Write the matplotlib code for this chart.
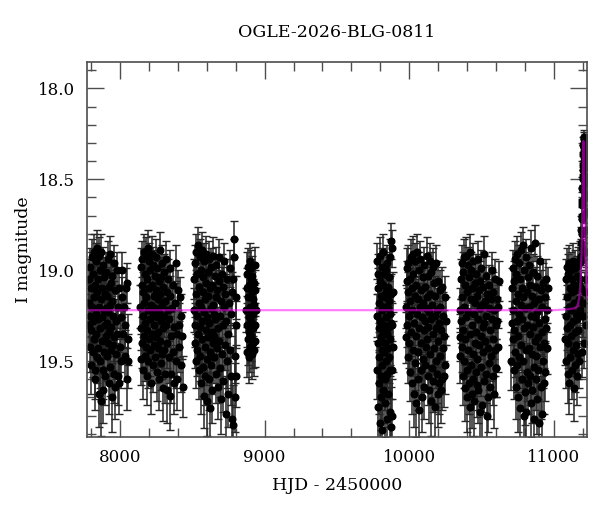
import numpy as np
import matplotlib
matplotlib.use("Agg")
import matplotlib.pyplot as plt
from matplotlib.ticker import MultipleLocator

# photometry per observing season (HJD-2450000, I mag, error)
hjd_2017 = [7784, 7786, 7789, 7791, 7793, 7796, 7798, 7800, 7803, 7805,
            7807, 7810, 7812, 7814, 7817, 7819, 7821, 7824, 7826, 7828,
            7831, 7833, 7835, 7838, 7840, 7842, 7845, 7847, 7849, 7852,
            7854, 7856, 7859, 7861, 7863, 7866, 7868, 7870, 7873, 7875,
            7877, 7880, 7882, 7884, 7887, 7889, 7891, 7894, 7896, 7898,
            7901, 7903, 7905, 7908, 7910, 7912, 7915, 7917, 7919, 7922,
            7924, 7926, 7929, 7931, 7933, 7936, 7938, 7940, 7943, 7945,
            7947, 7950, 7953, 7956, 7959, 7962, 7965, 7968, 7971, 7974,
            7977, 7980, 7984, 7988, 7992, 7996, 8000, 8004, 8008, 8012,
            8017, 8022, 8027, 8032, 8037, 8042, 8046, 8050, 8054, 8058]
mag_2017 = [19.05, 19.30, 19.18, 18.98, 19.42, 19.25, 19.10, 19.52, 19.33, 18.93,
            19.20, 19.45, 19.02, 19.28, 18.90, 19.38, 19.15, 19.55, 19.08, 19.60,
            19.24, 18.95, 19.35, 19.12, 19.48, 18.88, 19.27, 19.05, 19.43, 19.20,
            18.92, 19.68, 19.32, 19.00, 19.50, 19.16, 18.90, 19.72, 19.39, 19.10,
            19.26, 18.97, 19.55, 19.66, 19.22, 19.04, 19.45, 19.30, 19.13, 19.58,
            19.21, 19.36, 19.01, 19.29, 19.47, 19.14, 18.94, 19.40, 19.23, 19.62,
            19.09, 19.34, 18.91, 19.53, 19.19, 19.44, 19.07, 19.31, 19.70, 19.17,
            19.03, 19.41, 19.25, 19.57, 18.96, 19.37, 19.11, 19.64, 19.28, 19.46,
            19.00, 19.35, 19.20, 19.58, 19.62, 19.10, 19.42, 19.26, 19.50, 19.15,
            19.00, 19.35, 19.20, 19.47, 19.30, 19.10, 19.60, 19.07, 19.38, 19.50]
err_2017 = [0.11, 0.12, 0.11, 0.10, 0.14, 0.12, 0.11, 0.16, 0.12, 0.10,
            0.12, 0.14, 0.11, 0.12, 0.10, 0.14, 0.11, 0.16, 0.11, 0.17,
            0.12, 0.10, 0.13, 0.11, 0.14, 0.10, 0.12, 0.11, 0.14, 0.12,
            0.10, 0.18, 0.12, 0.10, 0.15, 0.11, 0.10, 0.19, 0.14, 0.11,
            0.12, 0.10, 0.16, 0.18, 0.12, 0.11, 0.14, 0.12, 0.11, 0.16,
            0.12, 0.13, 0.11, 0.12, 0.14, 0.11, 0.10, 0.14, 0.12, 0.17,
            0.11, 0.13, 0.10, 0.16, 0.11, 0.14, 0.11, 0.12, 0.19, 0.11,
            0.11, 0.14, 0.12, 0.16, 0.10, 0.13, 0.11, 0.18, 0.12, 0.14,
            0.10, 0.13, 0.12, 0.16, 0.17, 0.11, 0.14, 0.12, 0.15, 0.11,
            0.10, 0.13, 0.12, 0.14, 0.12, 0.11, 0.17, 0.11, 0.14, 0.15]

hjd_2018 = [8141, 8143, 8146, 8148, 8150, 8153, 8155, 8157, 8160, 8162,
            8164, 8167, 8169, 8171, 8174, 8176, 8178, 8181, 8183, 8185,
            8188, 8190, 8192, 8195, 8197, 8199, 8202, 8204, 8206, 8209,
            8211, 8213, 8216, 8218, 8220, 8223, 8225, 8227, 8230, 8232,
            8234, 8237, 8239, 8241, 8244, 8246, 8248, 8251, 8253, 8255,
            8258, 8260, 8262, 8265, 8267, 8269, 8272, 8274, 8276, 8279,
            8281, 8283, 8286, 8288, 8290, 8293, 8295, 8297, 8300, 8302,
            8304, 8307, 8310, 8313, 8316, 8319, 8322, 8325, 8328, 8331,
            8334, 8337, 8340, 8343, 8346, 8349, 8352, 8356, 8360, 8364,
            8368, 8372, 8376, 8380, 8384, 8388, 8392, 8396, 8400, 8405,
            8410, 8415, 8420, 8425, 8430, 8433]
mag_2018 = [19.20, 18.98, 19.49, 19.32, 19.08, 19.40, 18.94, 19.25, 19.55, 19.12,
            18.90, 19.36, 19.18, 19.47, 19.02, 19.29, 18.92, 19.42, 19.15, 19.58,
            19.05, 19.33, 18.88, 19.22, 19.50, 19.10, 19.38, 18.95, 19.27, 19.44,
            19.00, 19.62, 19.19, 18.91, 19.35, 19.08, 19.52, 19.24, 18.97, 19.41,
            19.14, 19.30, 19.03, 19.48, 19.21, 18.93, 19.37, 19.11, 19.56, 19.26,
            18.99, 19.43, 19.16, 19.34, 19.06, 19.60, 19.23, 18.89, 19.39, 19.13,
            19.28, 19.51, 19.04, 19.46, 19.19, 18.96, 19.32, 19.09, 19.65, 19.25,
            19.01, 19.44, 19.17, 19.57, 19.30, 18.94, 19.40, 19.12, 19.66, 19.22,
            19.05, 19.48, 19.27, 19.69, 19.14, 18.99, 19.36, 19.57, 19.21, 19.45,
            19.08, 19.31, 19.62, 19.18, 19.50, 18.96, 19.35, 19.60, 19.11, 19.42,
            19.30, 19.15, 19.52, 19.25, 19.36, 19.64]
err_2018 = [0.12, 0.10, 0.14, 0.12, 0.11, 0.14, 0.10, 0.12, 0.16, 0.11,
            0.10, 0.13, 0.11, 0.14, 0.11, 0.12, 0.10, 0.14, 0.11, 0.16,
            0.11, 0.12, 0.10, 0.12, 0.15, 0.11, 0.14, 0.10, 0.12, 0.14,
            0.10, 0.17, 0.11, 0.10, 0.13, 0.11, 0.15, 0.12, 0.10, 0.14,
            0.11, 0.12, 0.11, 0.14, 0.12, 0.10, 0.14, 0.11, 0.16, 0.12,
            0.10, 0.14, 0.11, 0.13, 0.11, 0.17, 0.12, 0.10, 0.14, 0.11,
            0.12, 0.15, 0.11, 0.14, 0.11, 0.10, 0.12, 0.11, 0.18, 0.12,
            0.10, 0.14, 0.11, 0.16, 0.12, 0.10, 0.14, 0.11, 0.18, 0.12,
            0.11, 0.14, 0.12, 0.19, 0.11, 0.10, 0.13, 0.16, 0.12, 0.14,
            0.11, 0.12, 0.17, 0.11, 0.15, 0.10, 0.13, 0.17, 0.11, 0.14,
            0.12, 0.11, 0.15, 0.12, 0.13, 0.17]

hjd_2019 = [8513, 8515, 8518, 8520, 8522, 8525, 8527, 8529, 8532, 8534,
            8536, 8539, 8541, 8543, 8546, 8548, 8550, 8553, 8555, 8557,
            8560, 8562, 8564, 8567, 8569, 8571, 8574, 8576, 8578, 8581,
            8583, 8585, 8588, 8590, 8592, 8595, 8597, 8599, 8602, 8604,
            8606, 8609, 8611, 8613, 8616, 8618, 8620, 8623, 8625, 8627,
            8630, 8632, 8634, 8637, 8639, 8641, 8644, 8646, 8648, 8651,
            8653, 8655, 8658, 8661, 8664, 8667, 8670, 8673, 8676, 8679,
            8682, 8685, 8688, 8691, 8694, 8697, 8700, 8703, 8706, 8709,
            8712, 8715, 8718, 8721, 8724, 8727, 8730, 8734, 8738, 8742,
            8746, 8750, 8754, 8758, 8762, 8766, 8770, 8774, 8778, 8781,
            8784, 8787, 8790, 8793, 8796, 8799, 8802, 8805]
mag_2019 = [19.22, 19.05, 19.40, 18.96, 19.30, 19.13, 19.50, 18.90, 19.25, 19.44,
            19.02, 19.35, 18.86, 19.18, 19.55, 19.09, 19.31, 18.93, 19.47, 19.20,
            19.00, 19.62, 19.28, 18.89, 19.38, 19.12, 19.53, 19.04, 19.69, 19.23,
            18.95, 19.42, 19.16, 19.58, 19.07, 19.33, 18.91, 19.49, 19.26, 19.72,
            19.01, 19.37, 19.14, 19.60, 18.94, 19.29, 19.45, 19.10, 19.76, 19.21,
            18.98, 19.52, 19.34, 19.66, 19.08, 19.40, 19.19, 18.92, 19.36, 19.24,
            19.48, 19.03, 19.27, 19.57, 19.15, 18.97, 19.43, 19.11, 19.64, 19.32,
            19.06, 19.39, 18.93, 19.25, 19.54, 19.17, 19.71, 19.02, 19.46, 19.30,
            19.09, 19.61, 19.20, 18.95, 19.41, 19.13, 19.79, 19.28, 19.50, 19.05,
            19.35, 19.68, 19.18, 19.44, 18.99, 19.58, 19.24, 19.82, 19.12, 19.85,
            19.05, 18.83, 18.93, 19.47, 19.70, 19.30, 19.58, 19.15]
err_2019 = [0.12, 0.11, 0.14, 0.10, 0.12, 0.11, 0.15, 0.10, 0.12, 0.14,
            0.11, 0.13, 0.10, 0.11, 0.16, 0.11, 0.12, 0.10, 0.14, 0.12,
            0.10, 0.17, 0.12, 0.10, 0.14, 0.11, 0.16, 0.11, 0.18, 0.12,
            0.10, 0.14, 0.11, 0.16, 0.11, 0.12, 0.10, 0.14, 0.12, 0.19,
            0.11, 0.14, 0.11, 0.17, 0.10, 0.12, 0.14, 0.11, 0.20, 0.12,
            0.10, 0.16, 0.13, 0.18, 0.11, 0.14, 0.11, 0.10, 0.14, 0.12,
            0.14, 0.11, 0.12, 0.16, 0.11, 0.10, 0.14, 0.11, 0.18, 0.12,
            0.11, 0.14, 0.10, 0.12, 0.16, 0.11, 0.19, 0.11, 0.14, 0.12,
            0.11, 0.17, 0.12, 0.10, 0.14, 0.11, 0.21, 0.12, 0.15, 0.11,
            0.13, 0.18, 0.11, 0.14, 0.10, 0.16, 0.12, 0.22, 0.11, 0.22,
            0.11, 0.10, 0.10, 0.15, 0.19, 0.13, 0.17, 0.12]

hjd_2020 = [8873, 8875, 8877, 8879, 8881, 8883, 8885, 8887, 8889, 8891,
            8893, 8895, 8897, 8899, 8901, 8903, 8905, 8907, 8909, 8911,
            8913, 8915, 8917, 8919, 8921, 8923, 8925, 8927, 8929, 8931,
            8933, 8935, 8937, 8939]
mag_2020 = [19.22, 19.02, 19.45, 19.30, 19.10, 19.38, 19.15, 18.98, 19.26, 19.48,
            19.08, 19.34, 18.95, 19.20, 19.42, 19.05, 19.28, 18.99, 19.36, 19.12,
            19.46, 19.03, 19.24, 19.40, 19.16, 19.32, 19.07, 19.44, 19.19, 18.97,
            19.30, 19.11, 19.39, 19.22]
err_2020 = [0.12, 0.12, 0.14, 0.12, 0.11, 0.14, 0.11, 0.10, 0.12, 0.14,
            0.11, 0.13, 0.10, 0.12, 0.14, 0.11, 0.12, 0.10, 0.14, 0.11,
            0.14, 0.11, 0.12, 0.14, 0.11, 0.12, 0.11, 0.14, 0.11, 0.10,
            0.12, 0.11, 0.14, 0.12]

hjd_2022 = [9777, 9779, 9780, 9782, 9784, 9785, 9787, 9789, 9790, 9792,
            9794, 9795, 9797, 9799, 9800, 9802, 9804, 9805, 9807, 9809,
            9810, 9812, 9814, 9815, 9817, 9819, 9820, 9822, 9824, 9825,
            9827, 9829, 9830, 9832, 9834, 9835, 9837, 9839, 9840, 9842,
            9844, 9845, 9847, 9849, 9850, 9852, 9854, 9855, 9857, 9859,
            9860, 9862, 9864, 9865, 9867, 9869, 9870, 9872, 9874, 9875,
            9877, 9879, 9880, 9882, 9884, 9886, 9888]
mag_2022 = [19.25, 18.95, 19.55, 19.10, 19.40, 19.75, 19.02, 19.32, 19.62, 19.18,
            19.48, 18.92, 19.84, 19.28, 19.06, 19.58, 19.37, 19.14, 19.70, 18.98,
            19.44, 19.22, 19.88, 19.52, 19.08, 19.34, 18.90, 19.66, 19.20, 19.45,
            19.02, 19.30, 19.60, 19.15, 19.40, 19.73, 19.00, 19.26, 19.50, 19.12,
            19.82, 19.35, 18.96, 19.57, 19.21, 19.43, 19.09, 19.68, 19.31, 19.04,
            19.48, 19.17, 19.78, 19.38, 18.93, 19.24, 19.55, 19.13, 19.86, 19.29,
            18.84, 19.80, 19.30, 18.88, 19.55, 19.12, 19.42]
err_2022 = [0.12, 0.10, 0.16, 0.11, 0.14, 0.19, 0.11, 0.12, 0.17, 0.11,
            0.14, 0.10, 0.21, 0.12, 0.11, 0.16, 0.13, 0.11, 0.18, 0.10,
            0.14, 0.12, 0.22, 0.15, 0.11, 0.13, 0.10, 0.18, 0.12, 0.14,
            0.11, 0.12, 0.17, 0.11, 0.14, 0.19, 0.10, 0.12, 0.15, 0.11,
            0.21, 0.13, 0.10, 0.16, 0.12, 0.14, 0.11, 0.18, 0.12, 0.11,
            0.14, 0.11, 0.20, 0.14, 0.10, 0.12, 0.16, 0.11, 0.22, 0.12,
            0.10, 0.20, 0.12, 0.10, 0.16, 0.11, 0.14]

hjd_2023 = [9977, 9980, 9982, 9985, 9988, 9990, 9993, 9995, 9998, 10001,
            10003, 10006, 10008, 10011, 10014, 10016, 10019, 10021, 10024, 10027,
            10029, 10032, 10034, 10037, 10040, 10042, 10045, 10047, 10050, 10053,
            10055, 10058, 10060, 10063, 10066, 10068, 10071, 10073, 10076, 10079,
            10081, 10084, 10086, 10089, 10092, 10094, 10097, 10099, 10102, 10105,
            10107, 10110, 10112, 10115, 10118, 10120, 10123, 10125, 10128, 10131,
            10133, 10136, 10138, 10141, 10144, 10146, 10149, 10151, 10154, 10157,
            10159, 10162, 10164, 10167, 10170, 10172, 10175, 10177, 10180, 10183,
            10185, 10188, 10190, 10193, 10196, 10198, 10201, 10204, 10207, 10210,
            10213, 10216, 10219, 10222, 10225, 10228, 10231, 10234, 10238, 10242,
            10246, 10250, 10254]
mag_2023 = [19.20, 19.37, 18.99, 19.06, 19.30, 19.12, 19.48, 18.96, 19.25, 19.40,
            19.05, 19.56, 19.17, 18.93, 19.34, 19.10, 19.62, 19.22, 18.91, 19.44,
            19.02, 19.29, 19.68, 19.14, 18.95, 19.51, 19.36, 19.08, 19.73, 19.24,
            18.90, 19.45, 19.16, 19.60, 19.00, 19.32, 19.77, 19.20, 18.94, 19.55,
            19.11, 19.40, 19.70, 19.26, 19.04, 19.49, 19.18, 19.64, 19.33, 18.97,
            19.28, 19.52, 19.09, 19.42, 19.21, 18.92, 19.38, 19.15, 19.58, 19.03,
            19.31, 19.66, 19.23, 18.95, 19.46, 19.13, 19.72, 19.27, 19.01, 19.54,
            19.19, 19.35, 18.98, 19.61, 19.07, 19.43, 19.25, 19.75, 19.14, 19.50,
            19.32, 18.96, 19.57, 19.22, 19.68, 19.06, 19.39, 19.29, 19.62, 19.11,
            19.47, 19.20, 19.66, 19.33, 19.60, 19.09, 19.43, 19.25, 19.58, 19.36,
            19.15, 19.52, 19.28]
err_2023 = [0.12, 0.14, 0.11, 0.11, 0.12, 0.11, 0.14, 0.10, 0.12, 0.14,
            0.11, 0.16, 0.11, 0.10, 0.13, 0.11, 0.17, 0.12, 0.10, 0.14,
            0.11, 0.12, 0.18, 0.11, 0.10, 0.15, 0.13, 0.11, 0.19, 0.12,
            0.10, 0.14, 0.11, 0.17, 0.10, 0.12, 0.20, 0.12, 0.10, 0.16,
            0.11, 0.14, 0.19, 0.12, 0.11, 0.14, 0.11, 0.18, 0.12, 0.10,
            0.12, 0.15, 0.11, 0.14, 0.12, 0.10, 0.14, 0.11, 0.16, 0.11,
            0.12, 0.18, 0.12, 0.10, 0.14, 0.11, 0.19, 0.12, 0.11, 0.16,
            0.11, 0.13, 0.10, 0.17, 0.11, 0.14, 0.12, 0.20, 0.11, 0.15,
            0.12, 0.10, 0.16, 0.12, 0.18, 0.11, 0.14, 0.12, 0.17, 0.11,
            0.14, 0.12, 0.18, 0.13, 0.17, 0.11, 0.14, 0.13, 0.17, 0.14,
            0.12, 0.16, 0.13]

hjd_2024 = [10349, 10352, 10354, 10357, 10359, 10362, 10364, 10367, 10369, 10372,
            10374, 10377, 10379, 10382, 10384, 10387, 10389, 10392, 10394, 10397,
            10399, 10402, 10404, 10407, 10409, 10412, 10414, 10417, 10419, 10422,
            10424, 10427, 10429, 10432, 10434, 10437, 10439, 10442, 10444, 10447,
            10449, 10452, 10454, 10457, 10459, 10462, 10464, 10467, 10469, 10472,
            10474, 10477, 10479, 10482, 10484, 10487, 10489, 10492, 10494, 10497,
            10499, 10502, 10504, 10507, 10509, 10512, 10514, 10517, 10519, 10522,
            10525, 10528, 10531, 10534, 10537, 10540, 10543, 10546, 10549, 10552,
            10555, 10558, 10561, 10564, 10567, 10570, 10573, 10576, 10579, 10582,
            10585, 10588, 10591, 10594, 10597, 10600, 10603, 10606, 10609, 10612,
            10615, 10618]
mag_2024 = [19.22, 19.37, 19.47, 19.05, 19.28, 18.96, 19.42, 19.15, 19.58, 19.01,
            19.33, 18.93, 19.50, 19.20, 19.65, 19.08, 19.38, 18.92, 19.26, 19.55,
            19.12, 19.70, 18.97, 19.44, 19.23, 19.62, 19.04, 18.90, 19.35, 19.75,
            19.16, 19.52, 19.00, 19.68, 19.30, 19.10, 19.46, 18.95, 19.60, 19.24,
            19.72, 19.07, 19.40, 19.18, 19.56, 19.02, 19.34, 19.63, 19.14, 19.49,
            18.94, 19.27, 19.66, 19.11, 19.41, 19.21, 19.78, 19.06, 19.36, 18.99,
            19.53, 19.19, 19.74, 19.31, 19.09, 19.45, 18.91, 19.29, 19.61, 19.17,
            19.39, 19.03, 19.57, 19.25, 19.80, 19.13, 19.43, 19.70, 19.21, 19.51,
            19.08, 19.33, 19.64, 19.16, 19.47, 19.00, 19.27, 19.58, 19.12, 19.38,
            19.68, 19.22, 19.44, 19.05, 19.54, 19.54, 19.30, 19.28, 19.16, 19.42,
            19.20, 19.06]
err_2024 = [0.12, 0.13, 0.15, 0.11, 0.12, 0.10, 0.14, 0.11, 0.16, 0.11,
            0.12, 0.10, 0.15, 0.12, 0.18, 0.11, 0.14, 0.10, 0.12, 0.16,
            0.11, 0.19, 0.10, 0.14, 0.12, 0.17, 0.11, 0.10, 0.13, 0.20,
            0.11, 0.15, 0.10, 0.19, 0.12, 0.11, 0.14, 0.10, 0.17, 0.12,
            0.19, 0.11, 0.14, 0.11, 0.16, 0.11, 0.13, 0.18, 0.11, 0.14,
            0.10, 0.12, 0.18, 0.11, 0.14, 0.12, 0.21, 0.11, 0.13, 0.10,
            0.16, 0.11, 0.20, 0.12, 0.11, 0.14, 0.10, 0.12, 0.17, 0.11,
            0.14, 0.11, 0.16, 0.12, 0.21, 0.11, 0.14, 0.19, 0.12, 0.15,
            0.11, 0.12, 0.18, 0.11, 0.14, 0.10, 0.12, 0.16, 0.11, 0.14,
            0.19, 0.12, 0.14, 0.11, 0.16, 0.16, 0.12, 0.13, 0.11, 0.14,
            0.12, 0.11]

hjd_2025 = [10707, 10710, 10712, 10715, 10717, 10720, 10722, 10725, 10727, 10730,
            10732, 10735, 10737, 10740, 10742, 10745, 10747, 10750, 10752, 10755,
            10757, 10760, 10762, 10765, 10767, 10770, 10772, 10775, 10777, 10780,
            10782, 10785, 10787, 10790, 10792, 10795, 10797, 10800, 10802, 10805,
            10807, 10810, 10812, 10815, 10817, 10820, 10822, 10825, 10827, 10830,
            10832, 10835, 10837, 10840, 10842, 10845, 10847, 10850, 10852, 10855,
            10857, 10860, 10862, 10865, 10867, 10870, 10872, 10875, 10877, 10880,
            10882, 10885, 10887, 10890, 10892, 10895, 10897, 10900, 10903, 10906,
            10909, 10912, 10915, 10918, 10921, 10924, 10927, 10930, 10933, 10936,
            10939, 10942, 10945, 10948, 10951, 10954, 10957]
mag_2025 = [19.50, 19.29, 19.10, 19.38, 18.99, 19.22, 19.55, 19.06, 19.33, 18.94,
            19.45, 19.17, 19.64, 19.02, 19.28, 18.91, 19.52, 19.13, 19.70, 19.36,
            18.96, 19.24, 19.48, 19.05, 19.76, 19.19, 18.89, 19.41, 19.10, 19.60,
            19.27, 18.86, 19.50, 19.15, 19.80, 19.32, 19.00, 19.67, 19.21, 19.44,
            18.93, 19.78, 19.12, 19.56, 19.30, 19.04, 19.62, 19.20, 19.43, 18.97,
            19.35, 19.58, 19.08, 19.73, 19.25, 18.88, 19.46, 19.14, 19.66, 19.31,
            19.01, 19.53, 19.18, 19.82, 19.39, 18.85, 19.26, 19.60, 19.09, 19.47,
            19.23, 19.71, 19.03, 19.37, 19.55, 19.16, 19.84, 19.29, 18.95, 19.42,
            19.11, 19.64, 19.34, 19.79, 19.20, 19.50, 19.07, 19.40, 19.62, 19.27,
            19.15, 19.56, 19.32, 19.05, 19.43, 19.22, 19.10]
err_2025 = [0.16, 0.12, 0.11, 0.14, 0.10, 0.12, 0.16, 0.11, 0.12, 0.10,
            0.14, 0.11, 0.18, 0.11, 0.12, 0.10, 0.15, 0.11, 0.19, 0.14,
            0.10, 0.12, 0.14, 0.11, 0.20, 0.11, 0.10, 0.14, 0.11, 0.17,
            0.12, 0.10, 0.15, 0.11, 0.21, 0.12, 0.10, 0.18, 0.12, 0.14,
            0.10, 0.20, 0.11, 0.16, 0.12, 0.11, 0.17, 0.12, 0.14, 0.10,
            0.13, 0.16, 0.11, 0.19, 0.12, 0.10, 0.14, 0.11, 0.18, 0.12,
            0.10, 0.15, 0.11, 0.21, 0.14, 0.10, 0.12, 0.17, 0.11, 0.14,
            0.12, 0.19, 0.11, 0.14, 0.16, 0.11, 0.22, 0.12, 0.10, 0.14,
            0.11, 0.18, 0.13, 0.21, 0.12, 0.15, 0.11, 0.14, 0.17, 0.12,
            0.11, 0.16, 0.12, 0.11, 0.14, 0.12, 0.12]

hjd_2026 = [11079, 11081, 11084, 11086, 11088, 11091, 11093, 11095, 11098, 11100,
            11102, 11105, 11107, 11109, 11112, 11114, 11116, 11119, 11121, 11123,
            11126, 11128, 11130, 11133, 11135, 11137, 11140, 11142, 11144, 11147,
            11149, 11151, 11154, 11156, 11158, 11161, 11163, 11165, 11168, 11170,
            11172, 11175, 11177, 11179, 11181]
mag_2026 = [19.38, 19.05, 19.25, 19.50, 18.98, 19.32, 19.15, 19.57, 19.02, 19.40,
            19.20, 19.62, 18.96, 19.30, 19.10, 19.48, 19.22, 19.00, 19.36, 19.12,
            19.55, 19.05, 19.28, 18.95, 19.44, 19.18, 19.65, 19.08, 19.34, 18.99,
            19.52, 19.24, 19.41, 19.11, 19.58, 19.03, 19.27, 19.46, 18.97, 19.33,
            19.16, 19.50, 19.08, 18.94, 19.22]
err_2026 = [0.14, 0.11, 0.12, 0.15, 0.10, 0.12, 0.11, 0.16, 0.11, 0.14,
            0.12, 0.17, 0.10, 0.12, 0.11, 0.14, 0.12, 0.10, 0.13, 0.11,
            0.16, 0.11, 0.12, 0.10, 0.14, 0.11, 0.18, 0.11, 0.13, 0.10,
            0.15, 0.12, 0.14, 0.11, 0.16, 0.11, 0.12, 0.14, 0.10, 0.13,
            0.11, 0.15, 0.11, 0.10, 0.12]

# the magnified part of 2026
hjd_peak = [11183, 11185, 11187, 11188, 11190, 11191, 11192, 11193, 11194, 11195,
            11196, 11197, 11198, 11199, 11200, 11201, 11202, 11203, 11204, 11205,
            11206, 11207, 11208, 11209, 11210, 11211, 11212, 11213, 11214, 11215,
            11216, 11217, 11218, 11219, 11220, 11221, 11222, 11224,
            11205, 11210, 11215, 11220, 11223, 11200, 11196]
mag_peak = [19.05, 18.92, 19.10, 18.85, 18.95, 18.78, 18.88, 18.70, 18.80, 18.62,
            18.72, 18.55, 18.64, 18.48, 18.56, 18.42, 18.50, 18.36, 18.45, 18.31,
            18.40, 18.28, 18.35, 18.27, 18.32, 18.30, 18.38, 18.29, 18.44, 18.34,
            18.52, 18.40, 18.60, 18.48, 18.68, 18.58, 18.78, 18.90,
            19.25, 19.40, 19.12, 19.30, 19.05, 19.18, 19.45]
err_peak = [0.10, 0.09, 0.10, 0.09, 0.09, 0.08, 0.09, 0.07, 0.08, 0.07,
            0.07, 0.06, 0.07, 0.05, 0.06, 0.05, 0.05, 0.05, 0.05, 0.04,
            0.05, 0.04, 0.05, 0.04, 0.04, 0.04, 0.05, 0.04, 0.05, 0.04,
            0.05, 0.05, 0.06, 0.05, 0.06, 0.06, 0.07, 0.08,
            0.12, 0.14, 0.11, 0.12, 0.11, 0.11, 0.14]

# microlensing model curve
model_hjd = [7700, 11000, 11100, 11140, 11160, 11168, 11176, 11185, 11192, 11197, 11201, 11204,
             11207, 11211, 11216, 11223, 11232, 11240, 11260]
model_mag = [19.22, 19.22, 19.215, 19.21, 19.20, 19.18, 19.15, 19.05, 18.90, 18.70, 18.45, 18.29,
             18.45, 18.70, 18.90, 19.05, 19.15, 19.18, 19.20]

hjd = np.concatenate([hjd_2017, hjd_2018, hjd_2019, hjd_2020, hjd_2022,
                      hjd_2023, hjd_2024, hjd_2025, hjd_2026, hjd_peak])
mag = np.concatenate([mag_2017, mag_2018, mag_2019, mag_2020, mag_2022,
                      mag_2023, mag_2024, mag_2025, mag_2026, mag_peak])
err = np.concatenate([err_2017, err_2018, err_2019, err_2020, err_2022,
                      err_2023, err_2024, err_2025, err_2026, err_peak])

plt.rcParams['font.family'] = ['DejaVu Serif']
fig = plt.figure(figsize=(6, 5.12), dpi=100)
ax = fig.add_axes([0.1455, 0.147, 0.8325, 0.732])

ax.errorbar(hjd, mag, yerr=err, fmt='o', color='black', ms=4.8,
            ecolor='0.15', elinewidth=1.1, capsize=2.8, capthick=1.0, zorder=2)
ax.plot(model_hjd, model_mag, color='magenta', lw=1.6, alpha=0.5, zorder=3)

ax.set_xlim(7774, 11228)
ax.set_ylim(19.916, 17.855)
ax.xaxis.set_major_locator(MultipleLocator(1000))
ax.xaxis.set_minor_locator(MultipleLocator(200))
ax.yaxis.set_major_locator(MultipleLocator(0.5))
ax.yaxis.set_minor_locator(MultipleLocator(0.1))
ax.tick_params(which='both', direction='in', top=True, right=True, color='0.3',
               labelsize=12)
ax.tick_params(which='major', length=12, width=1, pad=9)
ax.tick_params(which='minor', length=6.5, width=1)
for s in ax.spines.values():
    s.set_color('0.3')
    s.set_linewidth(1.2)

ax.set_xlabel('HJD - 2450000', fontsize=12.5, labelpad=8)
ax.set_ylabel('I magnitude', fontsize=12.5, labelpad=4)
ax.set_title('OGLE-2026-BLG-0811', fontsize=12.5, pad=18)

plt.savefig('out.png', dpi=100)
